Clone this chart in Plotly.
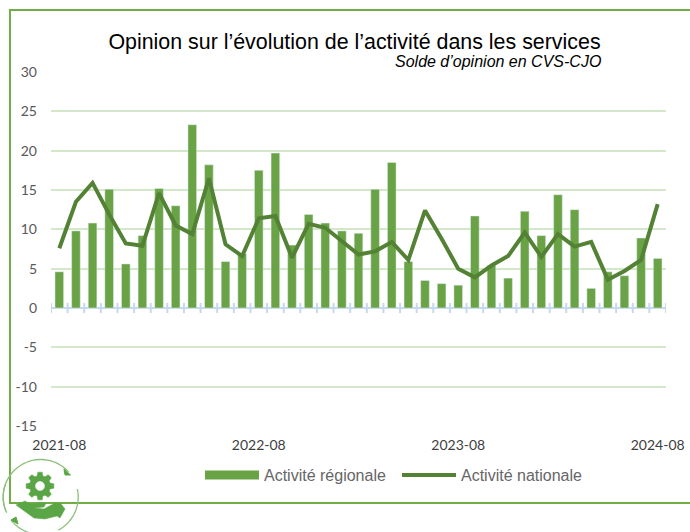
import numpy as np
import plotly.graph_objects as go

months = ["2021-08","2021-09","2021-10","2021-11","2021-12","2022-01","2022-02","2022-03","2022-04","2022-05","2022-06","2022-07",
          "2022-08","2022-09","2022-10","2022-11","2022-12","2023-01","2023-02","2023-03","2023-04","2023-05","2023-06","2023-07",
          "2023-08","2023-09","2023-10","2023-11","2023-12","2024-01","2024-02","2024-03","2024-04","2024-05","2024-06","2024-07","2024-08"]
regionale = [4.6,9.8,10.8,15.1,5.6,9.2,15.2,13.0,23.3,18.2,5.9,6.9,17.5,19.7,8.0,11.9,10.8,9.8,9.5,15.1,18.5,5.9,3.5,3.1,2.9,11.7,5.4,3.8,12.3,9.2,14.4,12.5,2.5,4.6,4.1,8.9,6.3]
nationale = [7.6,13.5,15.9,11.9,8.2,7.9,14.6,10.5,9.4,16.5,8.1,6.6,11.4,11.7,6.4,10.7,10.2,8.5,6.8,7.2,8.4,6.1,12.4,8.8,5.0,3.9,5.4,6.6,9.6,6.5,9.4,7.8,8.4,3.6,4.7,6.1,13.2]
label_months = ["2021-08","2022-08","2023-08","2024-08"]
y_ticks = [-15,-10,-5,0,5,10,15,20,25,30]
y_labels = ["-15","-10","-5","0","5","10","15","20","25","30"]

W, H = 690, 532
L, R, T, B = 51, 666, 72, 426
def px(x, y):
    return (x - L) / (R - L), (B - y) / (B - T)
def path(points, close=False):
    s = "M" + " L".join("%.4f,%.4f" % px(x, y) for x, y in points)
    return s + (" Z" if close else "")

idx = list(range(len(months)))
bounds = [i - 0.5 for i in range(len(months) + 1)]
C_BAR, C_LINE, C_GRID, C_FRAME = "#69a345", "#548235", "#d3e8c8", "#70ad47"

fig = go.Figure()
fig.add_trace(go.Scatter(x=bounds, y=[0]*len(bounds), mode="markers", marker=dict(size=1, opacity=0), showlegend=False, hoverinfo="skip",
                         error_y=dict(type="constant", value=0.65, thickness=2, width=0, color="#c5d9ee")))
fig.add_trace(go.Bar(x=idx, y=regionale, name="Activité régionale", marker_color=C_BAR, width=0.52, showlegend=False))
fig.add_trace(go.Scatter(x=[None], y=[None], mode="lines", name="Activité régionale", line=dict(color=C_BAR, width=9)))
fig.add_trace(go.Scatter(x=idx, y=nationale, mode="lines", name="Activité nationale", line=dict(color=C_LINE, width=4, shape="linear")))

shapes = []
fr = dict(type="path", xref="paper", yref="paper", line=dict(color=C_FRAME, width=2), layer="below")
shapes.append(dict(fr, path=path([(692, 10), (10, 10), (10, 503), (692, 503)])))

# logo
G = "#5aa545"
cx, cy, r = 40.7, 497, 37.5
def arc(a0, a1):
    return [(cx + r*np.cos(np.radians(a)), cy - r*np.sin(np.radians(a))) for a in np.linspace(a0, a1, 40)]
for a0, a1 in [(205, 42), (12, -62), (-105, -142), (-158, -200)]:
    shapes.append(dict(type="path", xref="paper", yref="paper", path=path(arc(a0, a1)), line=dict(color="#8cc07a", width=1.3)))
shapes.append(dict(type="path", xref="paper", yref="paper", path=path([(70.5,475),(64,469),(65,475)], True), fillcolor=G, line=dict(color=G, width=1)))
shapes.append(dict(type="path", xref="paper", yref="paper", path=path([(11,520),(18,524),(16,517)], True), fillcolor=G, line=dict(color=G, width=1)))
gc = (40, 486)
gear = []
for k in range(8):
    a = k*45
    for d, rr in [(-16, 10.5), (-9, 14), (9, 14), (16, 10.5)]:
        t = np.radians(a + d)
        gear.append((gc[0] + rr*np.cos(t), gc[1] - rr*np.sin(t)))
shapes.append(dict(type="path", xref="paper", yref="paper", path=path(gear, True), fillcolor=G, line=dict(color=G, width=0.5)))
hole = [(gc[0] + 4.5*np.cos(t), gc[1] - 4.5*np.sin(t)) for t in np.linspace(0, 2*np.pi, 30)]
shapes.append(dict(type="path", xref="paper", yref="paper", path=path(hole, True), fillcolor="white", line=dict(color="white", width=0.5)))
hand = [(16,505),(25,501),(30,504),(40,503),(46,503),(44,507),(34,508),(44,509),(55,503),(61,504),(65,509),(60,518),(57,516),(45,519),(34,518)]
shapes.append(dict(type="path", xref="paper", yref="paper", path=path(hand, True), fillcolor=G, line=dict(color=G, width=0.5)))

fig.update_layout(
    width=W, height=H, margin=dict(l=L, r=W-R, t=T, b=H-B),
    paper_bgcolor="white", plot_bgcolor="rgba(0,0,0,0)", shapes=shapes,
    font=dict(family="Liberation Sans"),
    title=dict(text="Opinion sur l’évolution de l’activité dans les services", x=354.5/W, xanchor="center", y=1-42/H, yanchor="middle",
               font=dict(family="Liberation Sans", size=21.4, color="#000000")),
    annotations=[dict(text="<i>Solde d’opinion en CVS-CJO</i>", xref="paper", yref="paper", x=px(603,62)[0], y=px(603,62)[1], xanchor="right", yanchor="middle",
                      showarrow=False, font=dict(family="Liberation Sans", size=16, color="#000000"))],
    xaxis=dict(range=[-0.5, 36.5], tickmode="array", tickvals=[months.index(m) for m in label_months], ticktext=label_months,
               showgrid=False, zeroline=False, showline=False, ticks="", ticklabelstandoff=9, automargin=False,
               tickfont=dict(family="Lato", size=14, color="#404040")),
    yaxis=dict(range=[-15, 30], tickmode="array", tickvals=y_ticks, ticktext=y_labels, showgrid=True, gridcolor=C_GRID, gridwidth=2,
               zeroline=True, zerolinecolor="#c5d9ee", zerolinewidth=2, showline=False, ticks="", ticklabelstandoff=13, automargin=False,
               tickfont=dict(family="Lato", size=14, color="#595959")),
    legend=dict(orientation="h", x=px(200,0)[0], y=px(0,475)[1], xanchor="left", yanchor="middle", itemwidth=54,
                entrywidth=128, entrywidthmode="pixels",
                font=dict(family="Liberation Sans", size=16, color="#666666"), traceorder="normal", bgcolor="rgba(0,0,0,0)"),
    bargap=0.48,
)
fig.write_html("out.html", config=dict(displayModeBar=False), post_script="document.body.style.margin='0';")
